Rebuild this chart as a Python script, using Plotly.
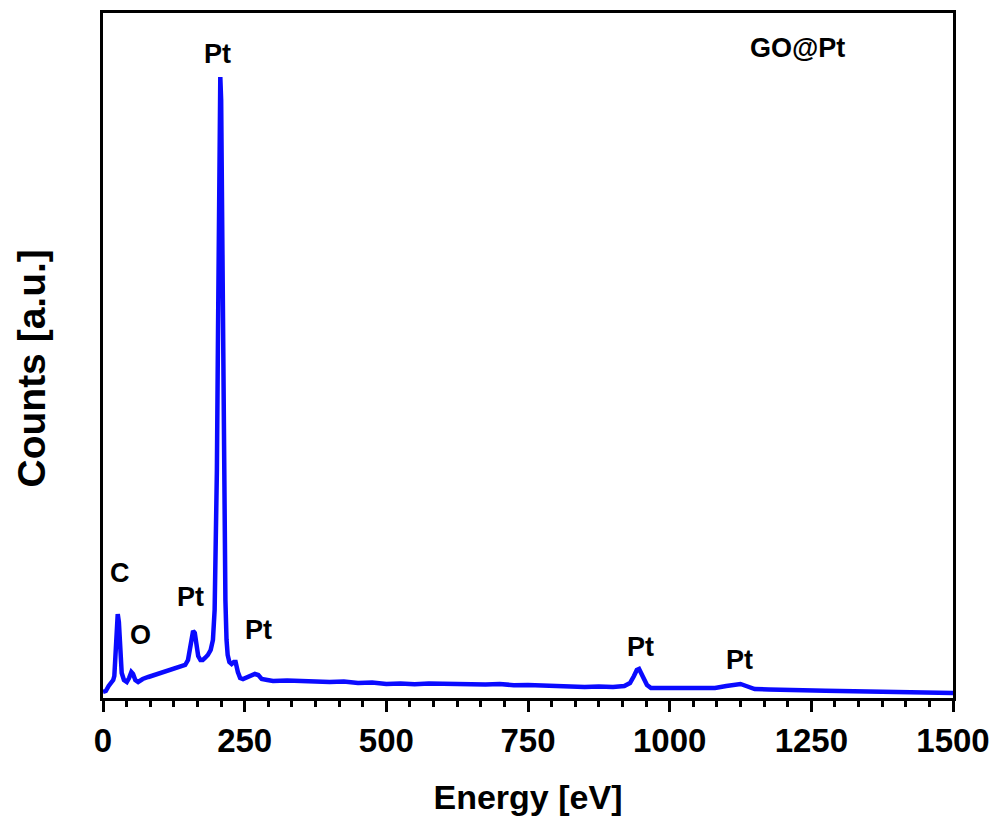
import plotly.graph_objects as go

# EDS spectrum of GO@Pt: energy (eV) and counts (a.u.)
energy = [0, 5, 10, 15, 18, 20, 22, 24, 26, 28, 30, 33, 37, 42, 46, 50, 53, 57, 62,
          70, 80, 90, 100, 110, 120, 130, 140, 145, 150, 153, 156, 159, 162, 165, 168,
          172, 176, 180, 185, 190, 194, 197, 199, 201, 203, 204.5, 206, 207, 208.5,
          210, 212, 214, 216, 218, 220, 223, 227, 231, 234, 238, 242, 247, 255, 262,
          268, 274, 280, 290, 300, 325, 350, 375, 400, 425, 450, 475, 500, 525, 550,
          575, 600, 625, 650, 675, 700, 725, 750, 775, 800, 825, 850, 875, 900, 920,
          930, 937, 942, 946, 950, 955, 960, 967, 980, 1000, 1025, 1050, 1080,
          1100, 1115, 1125, 1135, 1150, 1175, 1200, 1225, 1250, 1275, 1300, 1325,
          1350, 1375, 1400, 1425, 1450, 1475, 1500]
counts = [60, 70, 120, 150, 180, 220, 380, 680, 840, 760, 480, 250, 180, 160, 200,
          260, 240, 180, 160, 190, 210, 230, 250, 270, 280, 300, 320, 330, 380, 480,
          600, 670, 650, 530, 420, 380, 380, 400, 430, 480, 580, 880, 1380, 2280, 3680,
          4980, 6180, 6210, 5980, 4980, 3380, 1880, 980, 580, 430, 360, 340, 360, 360,
          260, 200, 190, 210, 230, 240, 230, 190, 180, 170, 175, 168, 172, 160, 165,
          150, 155, 140, 146, 138, 144, 140, 134, 130, 136, 140, 128, 130, 124, 120,
          116, 110, 114, 110, 120, 150, 220, 280, 290, 250, 180, 130, 100, 100, 90,
          94, 90, 100, 120, 130, 140, 120, 90, 86, 80, 76, 70, 72, 70, 64, 60, 62, 60,
          55, 50, 52, 50]

# Peak labels
label_x = [202, 30, 67, 155, 275, 948, 1123]
label_y = [6440, 1250, 630, 1010, 680, 510, 380]
label_text = ["Pt", "C", "O", "Pt", "Pt", "Pt", "Pt"]

sample_name = "GO@Pt"
x_ticks = [0, 250, 500, 750, 1000, 1250, 1500]

font_family = "Arial, Liberation Sans, sans-serif"

fig = go.Figure()
fig.add_trace(go.Scatter(
    x=energy, y=counts, mode="lines",
    line=dict(color="#0a0aff", width=4.5),
    showlegend=False,
))

for x, y, t in zip(label_x, label_y, label_text):
    fig.add_annotation(x=x, y=y, text=f"<b>{t}</b>", showarrow=False,
                       font=dict(family=font_family, size=27, color="black"))

fig.add_annotation(x=1313, y=6500, xanchor="right", text=f"<b>{sample_name}</b>",
                   showarrow=False,
                   font=dict(family=font_family, size=27, color="black"))

# y-axis title placed as a rotated annotation
fig.add_annotation(xref="paper", yref="paper", x=0, y=0.5, xshift=-72, yshift=-13,
                   xanchor="center", yanchor="middle", textangle=-90,
                   text="<b>Counts [a.u.]</b>", showarrow=False,
                   font=dict(family=font_family, size=39, color="black"))

fig.update_layout(
    width=997, height=823,
    margin=dict(l=103, r=44, t=13, b=125),
    paper_bgcolor="white", plot_bgcolor="white",
    font=dict(family=font_family, color="black"),
)

fig.update_xaxes(
    range=[0, 1500],
    automargin=False,
    tickvals=x_ticks,
    ticktext=[f"<b>{v}</b>" for v in x_ticks],
    tickfont=dict(size=33, family=font_family),
    ticks="outside", ticklen=11, tickwidth=3, tickcolor="black",
    minor=dict(ticks="outside", ticklen=6, tickwidth=3, tickcolor="black",
               dtick=250 / 6, tick0=0),
    showline=True, linewidth=3, linecolor="black", mirror=True,
    showgrid=False, zeroline=False,
    title=dict(text="<b>Energy [eV]</b>", font=dict(size=34, family=font_family),
               standoff=28),
)

fig.update_yaxes(
    range=[0, 6850],
    automargin=False,
    showticklabels=False, ticks="",
    showline=True, linewidth=3, linecolor="black", mirror=True,
    showgrid=False, zeroline=False,
)

fig.write_html("out.html")
